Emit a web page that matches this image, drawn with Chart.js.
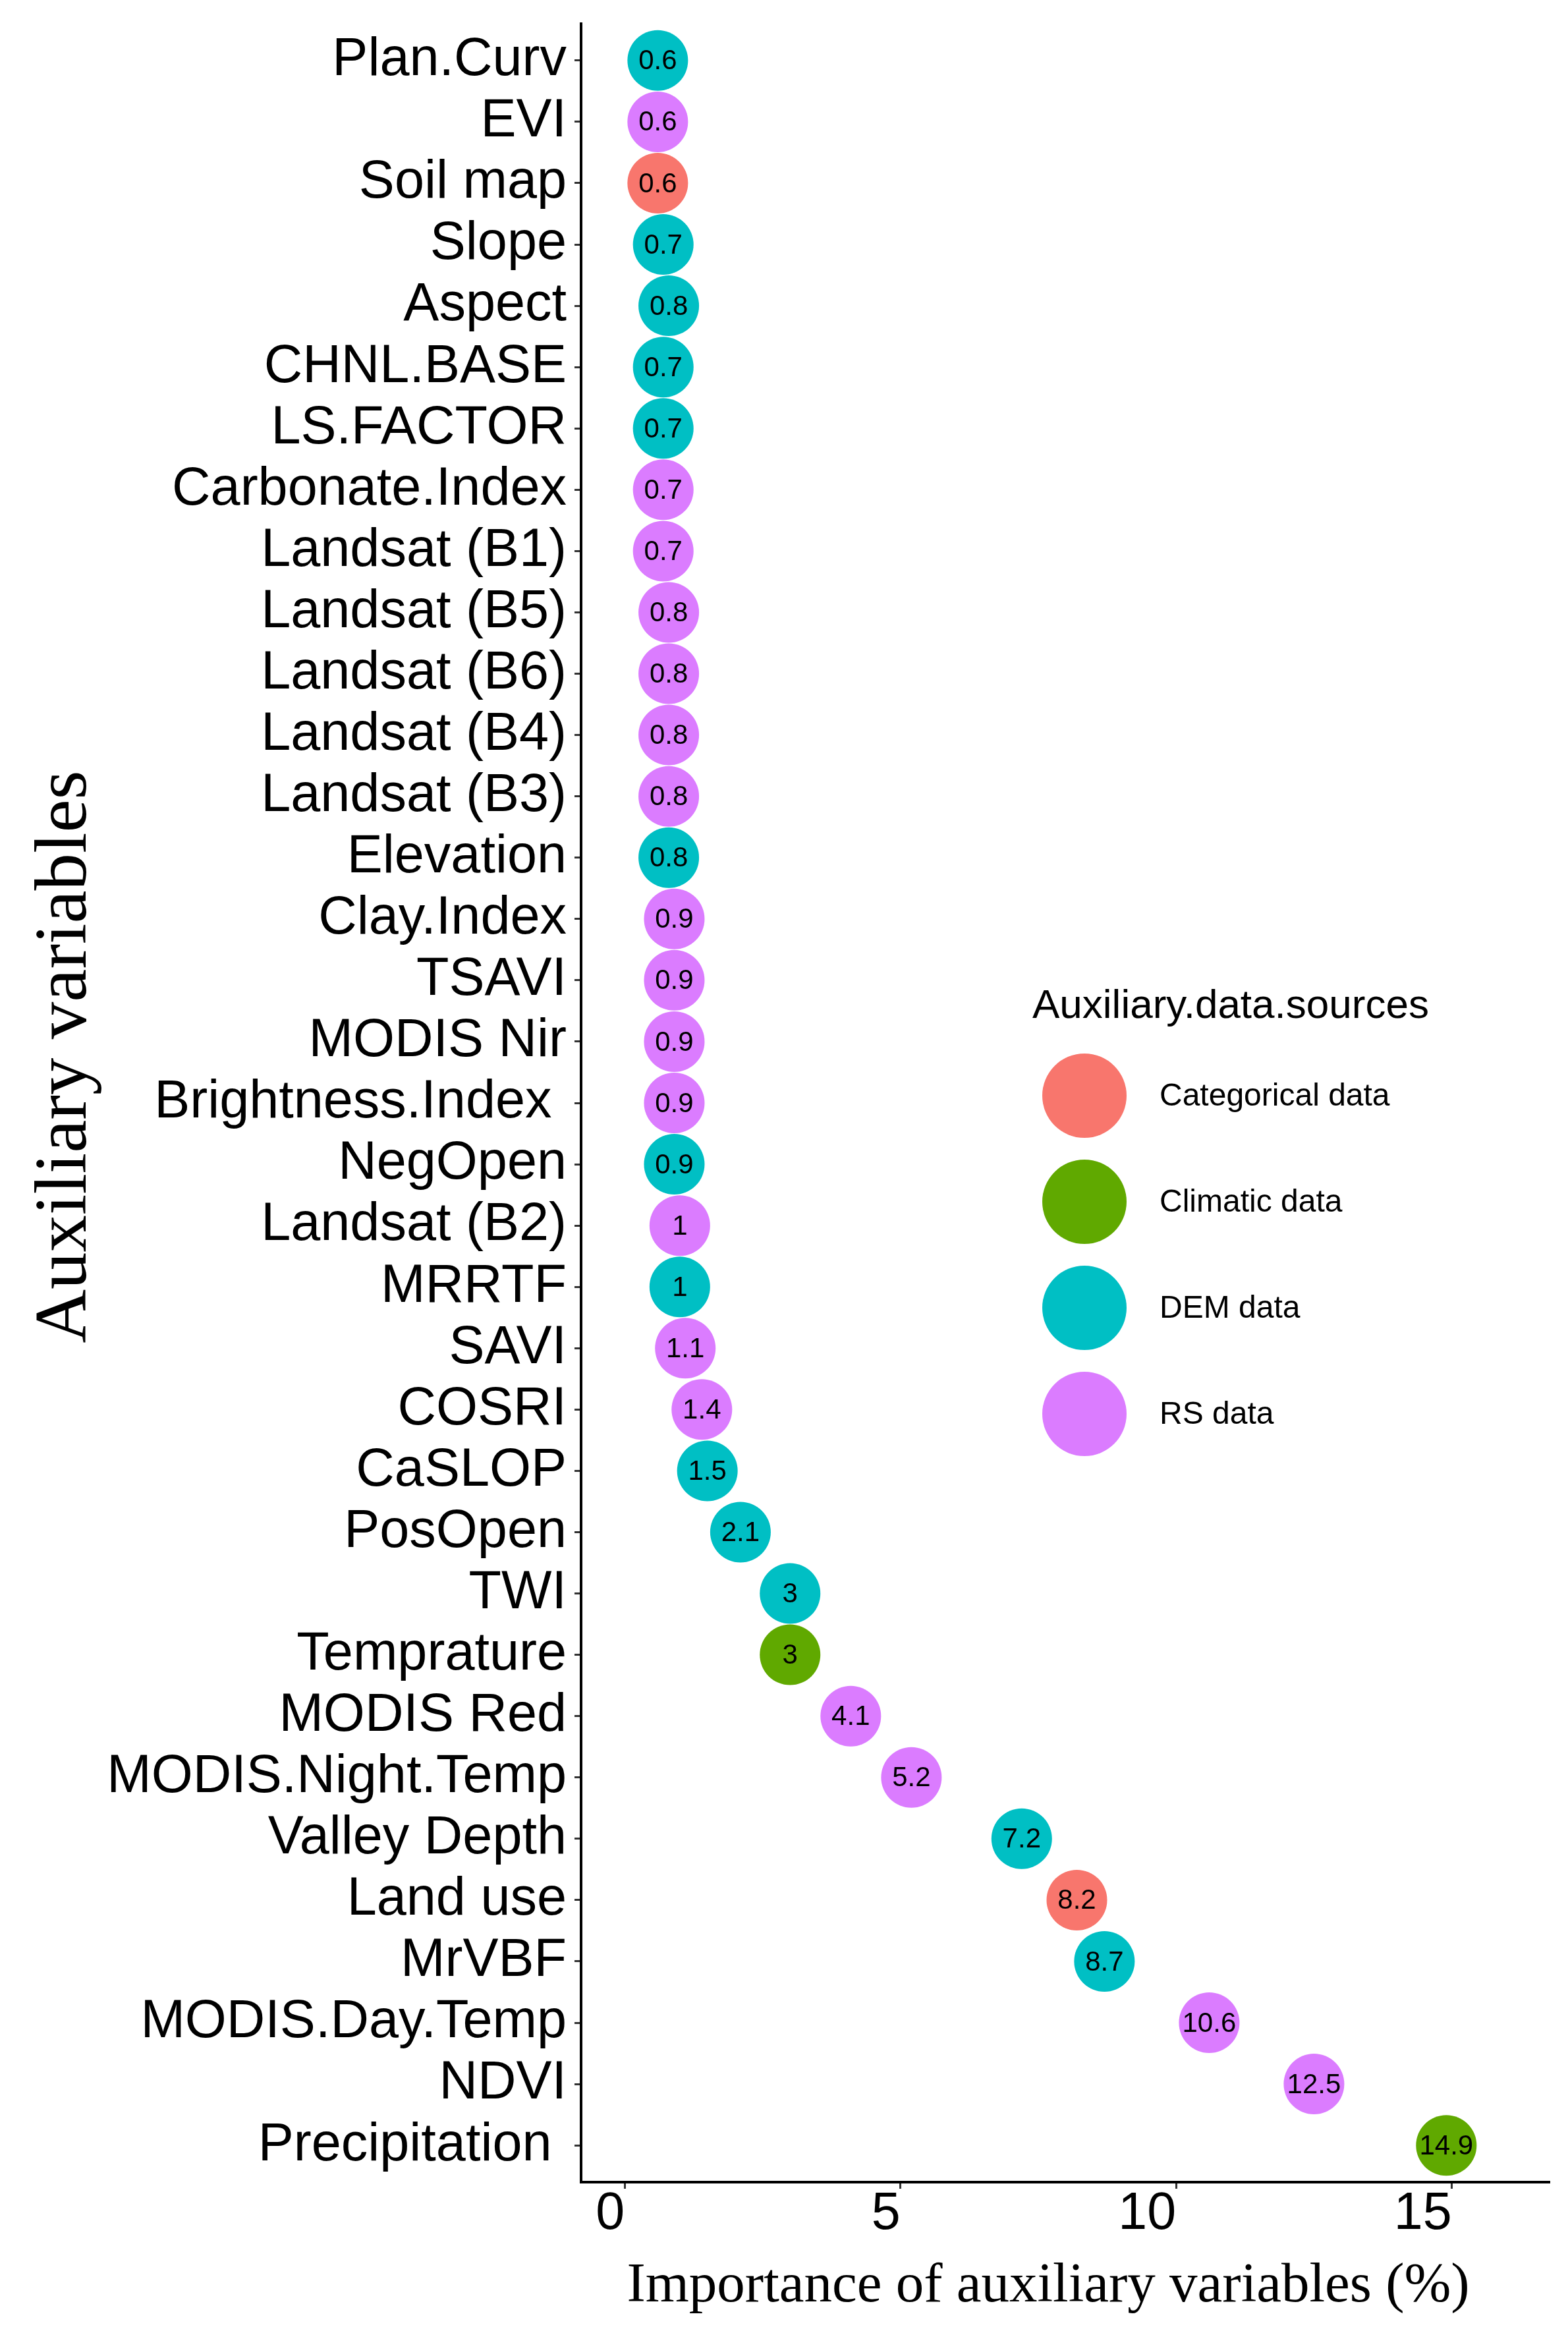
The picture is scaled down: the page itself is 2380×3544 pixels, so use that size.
<!DOCTYPE html>
<html><head><meta charset="utf-8">
<script src="https://cdn.jsdelivr.net/npm/chart.js@4.4.0/dist/chart.umd.min.js"></script>
<style>html,body{margin:0;padding:0;background:#fff;}canvas{display:block;}</style>
</head><body>
<canvas id="c" width="2380" height="3544"></canvas>
<script>
const categories = ['Plan.Curv','EVI','Soil map','Slope','Aspect','CHNL.BASE','LS.FACTOR','Carbonate.Index',
  'Landsat (B1)','Landsat (B5)','Landsat (B6)','Landsat (B4)','Landsat (B3)','Elevation','Clay.Index','TSAVI',
  'MODIS Nir','Brightness.Index ','NegOpen','Landsat (B2)','MRRTF','SAVI','COSRI','CaSLOP','PosOpen','TWI',
  'Temprature','MODIS Red','MODIS.Night.Temp','Valley Depth','Land use','MrVBF','MODIS.Day.Temp','NDVI','Precipitation '];
const importance = [0.6,0.6,0.6,0.7,0.8,0.7,0.7,0.7,0.7,0.8,0.8,0.8,0.8,0.8,0.9,0.9,0.9,0.9,0.9,1,1,1.1,1.4,1.5,2.1,3,3,4.1,5.2,7.2,8.2,8.7,10.6,12.5,14.9];
const sourceOf = ['DEM data','RS data','Categorical data','DEM data','DEM data','DEM data','DEM data','RS data',
  'RS data','RS data','RS data','RS data','RS data','DEM data','RS data','RS data',
  'RS data','RS data','DEM data','RS data','DEM data','RS data','RS data','DEM data','DEM data','DEM data',
  'Climatic data','RS data','RS data','DEM data','Categorical data','DEM data','RS data','RS data','Climatic data'];
const sourceNames = ['Categorical data','Climatic data','DEM data','RS data'];
const sourceColors = ['#F8766D','#60A900','#00BFC4','#DB7CFF'];
const xTicks = [0,5,10,15];
const xTitle = 'Importance of auxiliary variables (%)';
const yTitle = 'Auxiliary variables';
const legendTitle = 'Auxiliary.data.sources';

const SANS = '"Liberation Sans", Arial, sans-serif';
const SERIF = '"Liberation Serif", "Times New Roman", serif';

const datasets = sourceNames.map((name, k) => ({
  label: name,
  data: categories.map((c, i) => ({x: importance[i], y: i, src: sourceOf[i]}))
                  .filter(p => p.src === name),
  backgroundColor: sourceColors[k],
  pointBackgroundColor: sourceColors[k],
  pointBorderWidth: 0,
  pointRadius: 46,
  pointHoverRadius: 46,
  clip: false
}));

const valueLabels = {
  id: 'valueLabels',
  afterDatasetsDraw(chart) {
    const ctx = chart.ctx;
    ctx.save();
    ctx.font = '42px ' + SANS;
    ctx.fillStyle = '#000';
    ctx.textAlign = 'center';
    ctx.textBaseline = 'middle';
    chart.data.datasets.forEach((ds, di) => {
      chart.getDatasetMeta(di).data.forEach((el, j) => {
        ctx.fillText(String(ds.data[j].x), el.x, el.y + 2);
      });
    });
    ctx.restore();
  }
};

const customLegend = {
  id: 'customLegend',
  afterDraw(chart) {
    const ctx = chart.ctx;
    ctx.save();
    ctx.fillStyle = '#000';
    ctx.textAlign = 'left';
    ctx.textBaseline = 'alphabetic';
    ctx.font = '62px ' + SANS;
    ctx.fillText(legendTitle, 1567, 1545);
    chart.data.datasets.forEach((ds, k) => {
      const cy = 1663 + k * 161;
      ctx.beginPath();
      ctx.arc(1646, cy, 64, 0, Math.PI * 2);
      ctx.fillStyle = ds.backgroundColor;
      ctx.fill();
      ctx.fillStyle = '#000';
      ctx.font = '48px ' + SANS;
      ctx.textBaseline = 'middle';
      ctx.fillText(ds.label, 1760, cy + 2);
    });
    ctx.restore();
  }
};

const axisTitles = {
  id: 'axisTitles',
  afterDraw(chart) {
    const ctx = chart.ctx;
    ctx.save();
    ctx.fillStyle = '#000';
    ctx.textAlign = 'center';
    ctx.textBaseline = 'alphabetic';
    ctx.font = '85px ' + SERIF;
    ctx.fillText(xTitle, 1591, 3493);
    ctx.translate(130, 1604);
    ctx.rotate(-Math.PI / 2);
    ctx.font = '113px ' + SERIF;
    ctx.fillText(yTitle, 0, 0);
    ctx.restore();
  }
};

new Chart(document.getElementById('c'), {
  type: 'scatter',
  data: { datasets },
  plugins: [valueLabels, customLegend, axisTitles],
  options: {
    responsive: false,
    animation: false,
    devicePixelRatio: 1,
    layout: { autoPadding: false, padding: { top: 36, right: 29, bottom: 0, left: 0 } },
    plugins: { legend: { display: false }, tooltip: { enabled: false } },
    events: [],
    scales: {
      x: {
        type: 'linear',
        min: -0.79, max: 16.76,
        afterBuildTicks: s => { s.ticks = xTicks.map(v => ({value: v})); },
        afterFit: s => { s.height = 232; s.paddingLeft = 0; s.paddingRight = 0; },
        grid: { display: true, drawOnChartArea: false, drawTicks: true, tickLength: 10, tickColor: '#333', tickWidth: 3, lineWidth: 3 },
        border: { display: true, color: '#000', width: 4 },
        ticks: { align: 'end', color: '#000', padding: 0, font: { family: SANS, size: 79, lineHeight: 1 }, autoSkip: false, maxRotation: 0 }
      },
      y: {
        type: 'linear',
        reverse: true,
        min: -0.6, max: categories.length - 0.4,
        afterBuildTicks: s => { s.ticks = categories.map((c, i) => ({value: i})); },
        afterFit: s => { s.width = 882; s.paddingTop = 0; s.paddingBottom = 0; },
        grid: { display: true, drawOnChartArea: false, drawTicks: true, tickLength: 10, tickColor: '#333', tickWidth: 3, lineWidth: 3 },
        border: { display: true, color: '#000', width: 4 },
        ticks: { color: '#000', padding: 12, autoSkip: false, font: { family: SANS, size: 81, lineHeight: 1 },
                 callback: v => categories[v] }
      }
    }
  }
});
</script>
</body></html>
